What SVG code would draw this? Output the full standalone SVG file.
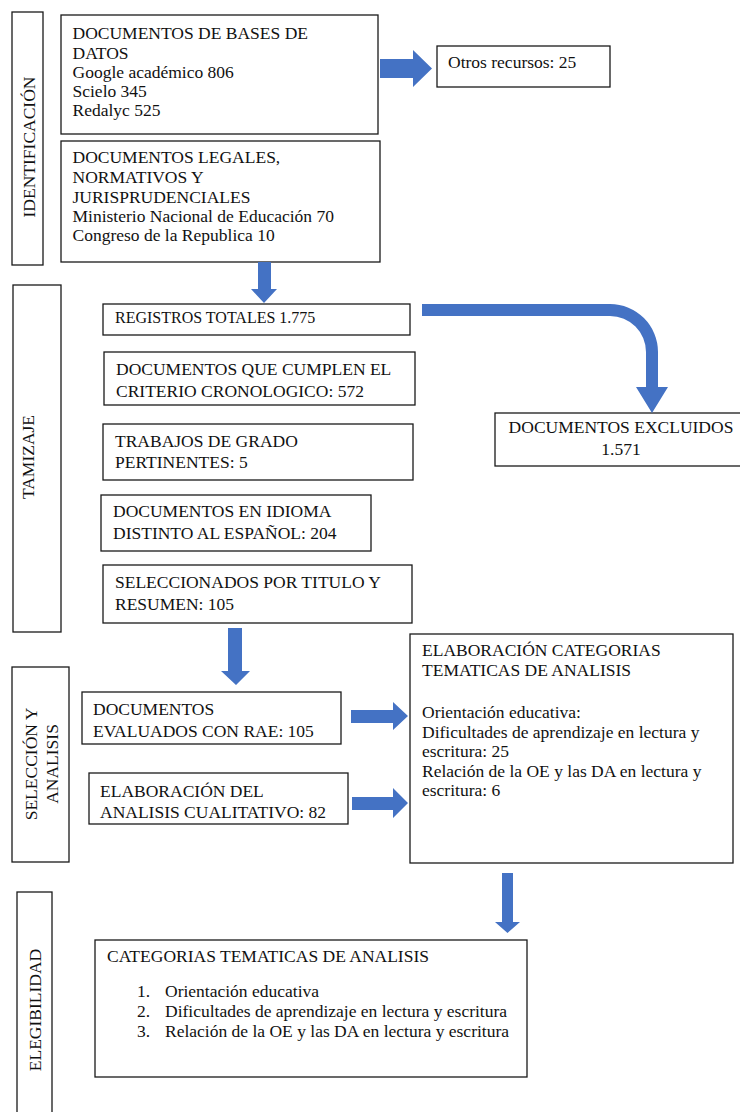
<svg xmlns="http://www.w3.org/2000/svg" width="740" height="1112" viewBox="0 0 740 1112">
<style>
.bg{fill:#ffffff}
.box{fill:#ffffff;stroke:#1a1a1a;stroke-width:1.3}
.t{font-family:"Liberation Serif","Times New Roman",serif;font-size:17.5px;fill:#111111}
.s{font-size:16px}
.arrow{fill:#4472C4}
</style>
<rect class="bg" x="0" y="0" width="740" height="1112"/>

<g id="label-identificacion">
<rect class="box" x="12" y="12" width="31" height="253"/>
<text class="t" transform="translate(35,147) rotate(-90)" text-anchor="middle">IDENTIFICACIÓN</text>
</g>
<g id="label-tamizaje">
<rect class="box" x="13" y="285" width="48" height="347"/>
<text class="t" transform="translate(34,457) rotate(-90)" text-anchor="middle">TAMIZAJE</text>
</g>
<g id="label-seleccion">
<rect class="box" x="12" y="667" width="57" height="195"/>
<text class="t" transform="translate(37,764) rotate(-90)" text-anchor="middle">SELECCIÓN Y</text>
<text class="t" transform="translate(58,764) rotate(-90)" text-anchor="middle">ANALISIS</text>
</g>
<g id="label-elegibilidad">
<rect class="box" x="17" y="892" width="35" height="226"/>
<text class="t" transform="translate(41,1010) rotate(-90)" text-anchor="middle">ELEGIBILIDAD</text>
</g>

<g id="node-bases">
<rect class="box" x="61" y="15" width="317" height="119"/>
<text class="t" x="72.5" y="39">DOCUMENTOS DE BASES DE</text>
<text class="t" x="72.5" y="59">DATOS</text>
<text class="t" x="72.5" y="78">Google académico 806</text>
<text class="t" x="72.5" y="97">Scielo 345</text>
<text class="t" x="72.5" y="116">Redalyc 525</text>
</g>
<g id="node-otros">
<rect class="box" x="437" y="46" width="173" height="41"/>
<text class="t" x="448" y="68">Otros recursos: 25</text>
</g>
<g id="node-legales">
<rect class="box" x="61" y="141" width="319" height="121"/>
<text class="t" x="72.5" y="163">DOCUMENTOS LEGALES,</text>
<text class="t" x="72.5" y="183">NORMATIVOS Y</text>
<text class="t" x="72.5" y="203">JURISPRUDENCIALES</text>
<text class="t" x="72.5" y="222">Ministerio Nacional de Educación 70</text>
<text class="t" x="72.5" y="241">Congreso de la Republica 10</text>
</g>
<g id="node-registros">
<rect class="box" x="103" y="304" width="307" height="31"/>
<text class="t s" x="115" y="323">REGISTROS TOTALES 1.775</text>
</g>
<g id="node-cronologico">
<rect class="box" x="104" y="352" width="311" height="53"/>
<text class="t" x="116" y="375">DOCUMENTOS QUE CUMPLEN EL</text>
<text class="t" x="116" y="397">CRITERIO CRONOLOGICO: 572</text>
</g>
<g id="node-trabajos">
<rect class="box" x="103" y="424" width="310" height="56"/>
<text class="t" x="115" y="447">TRABAJOS DE GRADO</text>
<text class="t" x="115" y="468">PERTINENTES: 5</text>
</g>
<g id="node-idioma">
<rect class="box" x="101" y="495" width="270" height="56"/>
<text class="t" x="113" y="517">DOCUMENTOS EN IDIOMA</text>
<text class="t" x="113" y="539">DISTINTO AL ESPAÑOL: 204</text>
</g>
<g id="node-seleccionados">
<rect class="box" x="103" y="565" width="309" height="58"/>
<text class="t" x="115" y="588">SELECCIONADOS POR TITULO Y</text>
<text class="t" x="115" y="610">RESUMEN: 105</text>
</g>
<g id="node-excluidos">
<rect class="box" x="495" y="413" width="252" height="53"/>
<text class="t" x="621" y="433" text-anchor="middle">DOCUMENTOS EXCLUIDOS</text>
<text class="t" x="621" y="455" text-anchor="middle">1.571</text>
</g>
<g id="node-evaluados">
<rect class="box" x="82" y="692" width="259" height="52"/>
<text class="t" x="93" y="715">DOCUMENTOS</text>
<text class="t" x="93" y="737">EVALUADOS CON RAE: 105</text>
</g>
<g id="node-cualitativo">
<rect class="box" x="89" y="773" width="259" height="51"/>
<text class="t" x="100" y="797">ELABORACIÓN DEL</text>
<text class="t" x="100" y="818">ANALISIS CUALITATIVO: 82</text>
</g>
<g id="node-elaboracion-categorias">
<rect class="box" x="410" y="634" width="323" height="229"/>
<text class="t" x="422" y="656">ELABORACIÓN CATEGORIAS</text>
<text class="t" x="422" y="676">TEMATICAS DE ANALISIS</text>
<text class="t" x="422" y="718">Orientación educativa:</text>
<text class="t" x="422" y="738">Dificultades de aprendizaje en lectura y</text>
<text class="t" x="422" y="757">escritura: 25</text>
<text class="t" x="422" y="777">Relación de la OE y las DA en lectura y</text>
<text class="t" x="422" y="796">escritura: 6</text>
</g>
<g id="node-categorias">
<rect class="box" x="95" y="940" width="432" height="137"/>
<text class="t" x="107" y="962">CATEGORIAS TEMATICAS DE ANALISIS</text>
<text class="t" x="137" y="997">1.</text>
<text class="t" x="165" y="997">Orientación educativa</text>
<text class="t" x="137" y="1017">2.</text>
<text class="t" x="165" y="1017">Dificultades de aprendizaje en lectura y escritura</text>
<text class="t" x="137" y="1037">3.</text>
<text class="t" x="165" y="1037">Relación de la OE y las DA en lectura y escritura</text>
</g>

<g id="connectors">
<polygon class="arrow" points="380,59 413,59 413,50 432,68.5 413,87 413,78 380,78"/>
<polygon class="arrow" points="258,262 271,262 271,289 277,289 264,303 251,289 258,289"/>
<path class="arrow" d="M422,304 H610 A48,48 0 0 1 658,352 V387 H668 L652,413 L636,387 H646 V352 A36,36 0 0 0 610,316 H422 Z"/>
<polygon class="arrow" points="228,628 242,628 242,671 250,671 236,685 221,671 228,671"/>
<polygon class="arrow" points="351,710 393,710 393,702 408,716 393,730 393,723 351,723"/>
<polygon class="arrow" points="352,797 393,797 393,788 408,803 393,818 393,810 352,810"/>
<polygon class="arrow" points="502,873 513,873 513,922 520,922 507.5,933 495,922 502,922"/>
</g>
</svg>
